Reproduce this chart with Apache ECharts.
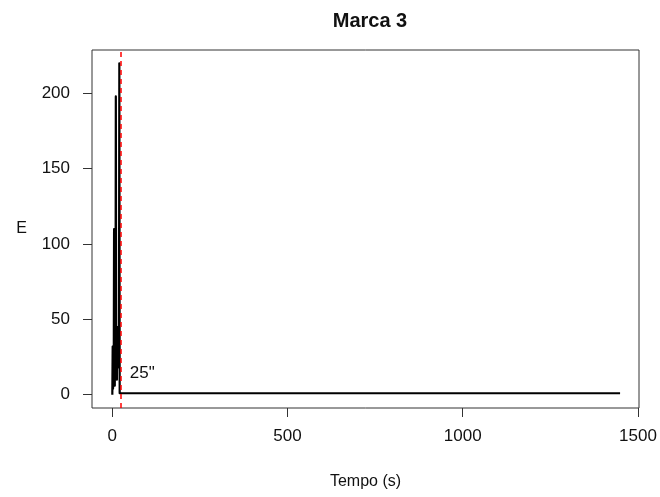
<!DOCTYPE html>
<html>
<head>
<meta charset="utf-8">
<title>Marca 3</title>
<script src="https://cdn.jsdelivr.net/npm/echarts@6/dist/echarts.min.js"></script>
<style>
  html, body { margin: 0; padding: 0; background: #fff; }
  #main { width: 660px; height: 497px; }
</style>
</head>
<body>
<div id="main"></div>
<script>
// dati (tempo in secondi, E)
var tempo = [0, 1, 2, 3, 4, 5, 6, 7, 8, 9, 10, 11, 12, 13, 14, 15, 16, 17, 18, 19, 20, 21, 22,
  60, 120, 166, 167, 168, 169, 170, 196, 197, 198, 199, 200, 300, 600, 900, 1200, 1449];
var energia = [0, 32, 4, 12, 8, 110, 20, 6, 30, 15, 198, 40, 22, 10, 35, 18, 45, 25, 38, 30, 220, 1, 1,
  1, 1, 1, 0, 0, 0, 1, 1, 0, 0, 0, 1, 1, 1, 1, 1, 1];

var xTicks = [0, 500, 1000, 1500];
var yTicks = [0, 50, 100, 150, 200];
var soglia = 25;          // linea rossa tratteggiata
var etichetta = '25"';
var etichettaPos = [50, 14.5];

var font = 'Liberation Sans, Arial, sans-serif';
var ink = '#111';

var punti = tempo.map(function (t, i) { return [t, energia[i]]; });

var myChart = echarts.init(document.getElementById('main'));

var option = {
  animation: false,
  backgroundColor: '#fff',
  title: {
    text: 'Marca 3',
    left: 365,
    top: 6,
    textAlign: 'center',
    textStyle: { fontFamily: font, fontSize: 20, fontWeight: 'bold', color: ink }
  },
  grid: {
    left: 92, right: 21, top: 50, bottom: 89,
    show: true, borderColor: '#333', borderWidth: 1
  },
  xAxis: {
    type: 'value',
    min: -58, max: 1503,
    name: 'Tempo (s)',
    nameLocation: 'middle',
    nameGap: 66,
    nameTextStyle: { fontFamily: font, fontSize: 16, color: ink },
    axisLine: { show: false, onZero: false },
    axisTick: { show: true, length: 9, customValues: xTicks, lineStyle: { color: '#333' } },
    axisLabel: {
      customValues: xTicks, margin: 20, fontFamily: font, fontSize: 17, color: ink,
      formatter: function (v) { return String(v); }
    },
    splitLine: { show: false }
  },
  yAxis: {
    type: 'value',
    min: -8.8, max: 228.8,
    name: 'E',
    nameLocation: 'middle',
    nameRotate: 0,
    nameGap: 65,
    nameTextStyle: { fontFamily: font, fontSize: 16, color: ink },
    axisLine: { show: false, onZero: false },
    axisTick: { show: true, length: 9, customValues: yTicks, lineStyle: { color: '#333' } },
    axisLabel: {
      customValues: yTicks, margin: 22, fontFamily: font, fontSize: 17, color: ink,
      formatter: function (v) { return String(v); }
    },
    splitLine: { show: false }
  },
  series: [
    {
      type: 'line',
      data: punti,
      showSymbol: false,
      lineStyle: { color: '#000', width: 2.2, join: 'round' },
      markLine: {
        silent: true,
        symbol: 'none',
        label: { show: false },
        lineStyle: { color: '#ff0000', type: [5, 4], width: 1.5 },
        data: [{ xAxis: soglia }]
      }
    },
    {
      type: 'scatter',
      data: [etichettaPos],
      symbolSize: 0,
      silent: true,
      itemStyle: { opacity: 1, color: ink },
      label: {
        show: true,
        position: 'right',
        distance: 0,
        formatter: etichetta,
        fontFamily: font,
        fontSize: 17,
        color: ink,
        opacity: 1
      }
    }
  ]
};

myChart.setOption(option);
</script>
</body>
</html>
